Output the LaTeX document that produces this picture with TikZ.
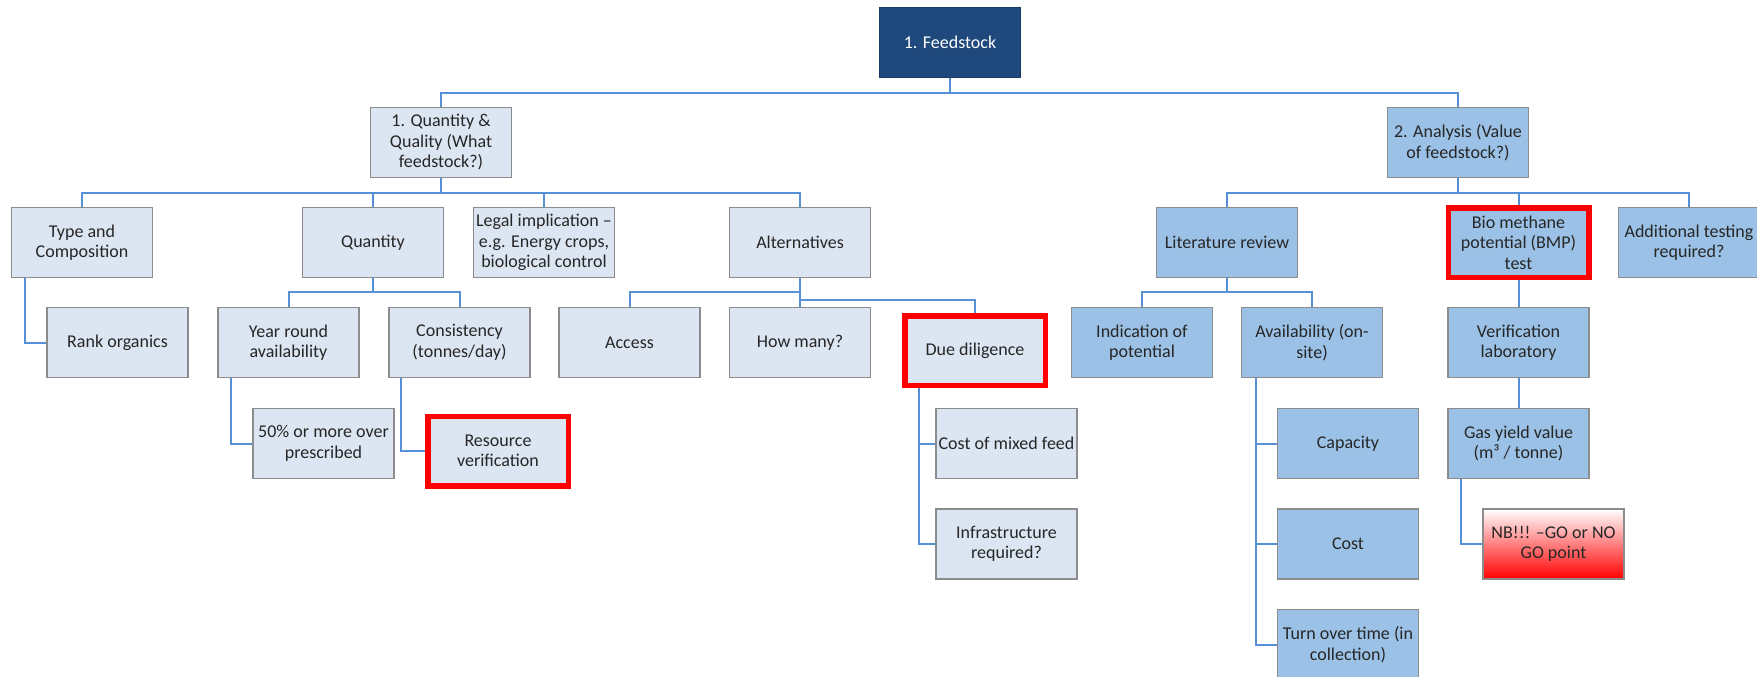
\documentclass[tikz,border=0pt]{standalone}
\usepackage{fontspec}
\setmainfont{Carlito}
\definecolor{lightfill}{HTML}{DCE6F2}
\definecolor{midfill}{HTML}{9BC2E6}
\definecolor{darkfill}{HTML}{1F497D}
\definecolor{boxline}{HTML}{8C8C8C}
\definecolor{conn}{HTML}{5590D4}
\definecolor{txt}{HTML}{262626}
\begin{document}
\begin{tikzpicture}[x=1pt,y=-1pt,
  box/.style={draw=boxline, line width=1.2pt, minimum width=141pt, minimum height=70pt,
    inner sep=2pt, align=center, text=txt, font=\fontsize{18pt}{20.5pt}\selectfont},
  light/.style={box, fill=lightfill},
  mid/.style={box, fill=midfill},
  hot/.style={draw=red, line width=5.5pt, minimum width=140.5pt, minimum height=69.5pt},
  top/.style={box, fill=darkfill, draw=darkfill!80!black, text=white},
  alert/.style={box, top color=white, bottom color=red},
  link/.style={draw=conn, line width=2pt}]
\useasboundingbox (0,0) rectangle (1757,677);
\fill[white] (0,0) rectangle (1757,677);

% root and the two main branches
\node[top]   (feed) at (950,42.5)   {1. Feedstock};
\node[light] (qq)   at (441,142.5)  {1. Quantity \&\\Quality (What\\feedstock?)};
\node[mid]   (an)   at (1458,142.5) {2. Analysis (Value\\of feedstock?)};

% second level
\node[light] (type)  at (82,242.5)     {Type and\\Composition};
\node[light] (qty)   at (373,242.5)    {Quantity};
\node[light] (legal) at (544,242.5)    {Legal implication --\\e.g. Energy crops,\\biological control};
\node[light] (alt)   at (800,242.5)    {Alternatives};
\node[mid]   (lit)   at (1227,242.5)   {Literature review};
\node[mid,hot] (bmp) at (1518.5,242.5) {Bio methane\\potential (BMP)\\test};
\node[mid]   (add)   at (1689,242.5)   {Additional testing\\required?};

% third level
\node[light] (rank)  at (117.5,342.5)  {Rank organics};
\node[light] (year)  at (288.5,342.5)  {Year round\\availability};
\node[light] (cons)  at (459.5,342.5)  {Consistency\\(tonnes/day)};
\node[light] (acc)   at (629.5,342.5)  {Access};
\node[light] (many)  at (800,342.5)    {How many?};
\node[light,hot] (dd) at (975,350.5)   {Due diligence};
\node[mid]   (ind)   at (1142,342.5)   {Indication of\\potential};
\node[mid]   (avail) at (1312,342.5)   {Availability (on-\\site)};
\node[mid]   (verif) at (1518.5,342.5) {Verification\\laboratory};

% fourth level
\node[light] (fifty) at (323.5,443.5)  {50\% or more over\\prescribed};
\node[light,hot] (res) at (498,451)    {Resource\\verification};
\node[light] (mixed) at (1006.5,443.5) {Cost of mixed feed};
\node[mid]   (cap)   at (1348,443.5)   {Capacity};
\node[mid]   (gas)   at (1518.5,443.5) {Gas yield value\\(m³ / tonne)};

% fifth and sixth level
\node[light] (infra) at (1006.5,544)   {Infrastructure\\required?};
\node[mid]   (cost)  at (1348,544)     {Cost};
\node[alert] (nb)    at (1553.5,544)   {NB!!! --GO or NO\\GO point};
\node[mid]   (turn)  at (1348,644.5)   {Turn over time (in\\collection)};

% connectors
\draw[link] (feed.south) -- ++(0,15) -| (qq.north);
\draw[link] (feed.south) -- ++(0,15) -| (an.north);

\draw[link] (qq.south) -- ++(0,15) -| (type.north);
\draw[link] (qq.south) -- ++(0,15) -| (qty.north);
\draw[link] (qq.south) -- ++(0,15) -| (legal.north);
\draw[link] (qq.south) -- ++(0,15) -| (alt.north);

\draw[link] (an.south) -- ++(0,15) -| (lit.north);
\draw[link] (an.south) -- ++(0,15) -| (bmp.north);
\draw[link] (an.south) -- ++(0,15) -| (add.north);

\draw[link] ([xshift=14pt]type.south west) |- (rank.west);

\draw[link] (qty.south) -- ++(0,14) -| (year.north);
\draw[link] (qty.south) -- ++(0,14) -| (cons.north);
\draw[link] ([xshift=14pt]year.south west) |- (fifty.west);
\draw[link] ([xshift=13pt]cons.south west) |- (res.west);

\draw[link] (alt.south) -- ++(0,14) -| (acc.north);
\draw[link] (alt.south) -- (many.north);
\draw[link] (alt.south) -- ++(0,22) -| (dd.north);
\draw[link] ([xshift=17pt]dd.south west) |- (mixed.west);
\draw[link] ([xshift=17pt]dd.south west) |- (infra.west);

\draw[link] (lit.south) -- ++(0,14) -| (ind.north);
\draw[link] (lit.south) -- ++(0,14) -| (avail.north);
\draw[link] ([xshift=15pt]avail.south west) |- (cap.west);
\draw[link] ([xshift=15pt]avail.south west) |- (cost.west);
\draw[link] ([xshift=15pt]avail.south west) |- (turn.west);

\draw[link] (bmp.south) -- (verif.north);
\draw[link] (verif.south) -- (gas.north);
\draw[link] ([xshift=14pt]gas.south west) |- (nb.west);
\end{tikzpicture}
\end{document}
